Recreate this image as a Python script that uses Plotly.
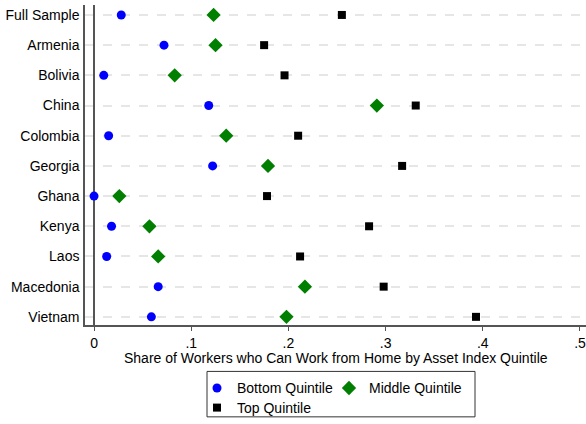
import plotly.graph_objects as go

countries = ["Full Sample", "Armenia", "Bolivia", "China", "Colombia", "Georgia",
             "Ghana", "Kenya", "Laos", "Macedonia", "Vietnam"]
bottom_q = [0.028, 0.072, 0.010, 0.118, 0.015, 0.122, 0.000, 0.018, 0.013, 0.066, 0.059]
middle_q = [0.123, 0.125, 0.083, 0.291, 0.136, 0.179, 0.026, 0.057, 0.066, 0.217, 0.198]
top_q = [0.255, 0.175, 0.196, 0.331, 0.210, 0.317, 0.178, 0.283, 0.212, 0.298, 0.393]
tick_vals = [0, 0.1, 0.2, 0.3, 0.4, 0.5]
tick_text = ["0", ".1", ".2", ".3", ".4", ".5"]
x_title = "Share of Workers who Can Work from Home by Asset Index Quintile"

FONT = "Liberation Sans, Arial, sans-serif"

fig = go.Figure()
fig.add_trace(go.Scatter(x=bottom_q, y=countries, mode="markers", name="Bottom Quintile",
                         marker=dict(symbol="circle", size=9, color="#0000ff"), legend="legend"))
fig.add_trace(go.Scatter(x=middle_q, y=countries, mode="markers", name="Middle Quintile",
                         marker=dict(symbol="diamond", size=11, color="#007f00"), legend="legend2"))
fig.add_trace(go.Scatter(x=top_q, y=countries, mode="markers", name="Top Quintile",
                         marker=dict(symbol="square", size=8, color="#000000"), legend="legend3"))

W, H = 586, 424
ml, mr, mt, mb = 85, 0, 5, 95
pw, ph = W - ml - mr, H - mt - mb

def px_x(p):
    return (p - ml) / pw

def px_y(p):
    return (H - mb - p) / ph

def leg(xp, yp):
    return dict(orientation="h", x=px_x(xp), y=px_y(yp), xanchor="left", yanchor="top",
                bgcolor="rgba(0,0,0,0)", borderwidth=0, font=dict(size=14), itemwidth=30)

fig.update_layout(
    width=W, height=H,
    margin=dict(l=ml, r=mr, t=mt, b=mb),
    paper_bgcolor="white", plot_bgcolor="white",
    font=dict(family=FONT, size=14, color="#000"),
    xaxis=dict(range=[-0.0093, 0.5062], tickvals=tick_vals, ticktext=tick_text,
               automargin=False, ticklabeloverflow="allow",
               showgrid=False, zeroline=True, zerolinecolor="#555", zerolinewidth=1.5,
               showline=True, linecolor="#555", linewidth=1.5,
               ticks="outside", ticklen=4, tickcolor="#555", tickwidth=1,
               ticklabelstandoff=0, tickfont=dict(size=14)),
    yaxis=dict(categoryorder="array", categoryarray=countries, automargin=False,
               range=[10.27, -0.33], showgrid=True, gridcolor="#e6e6e6", gridwidth=1.5,
               griddash="dash", showline=True, linecolor="#555", linewidth=1.5,
               ticks="", ticklabelstandoff=1, tickfont=dict(size=14)),
    showlegend=True,
    legend=leg(197, 377),
    legend2=leg(329, 377),
    legend3=leg(197, 397),
    annotations=[dict(text=x_title, xref="paper", yref="paper", x=0.5, y=px_y(362),
                      xanchor="center", yanchor="middle", showarrow=False,
                      font=dict(size=14))],
    shapes=[dict(type="rect", xref="paper", yref="paper",
                 x0=px_x(207), x1=px_x(475), y0=px_y(422), y1=px_y(376),
                 line=dict(color="#333", width=1), fillcolor="rgba(0,0,0,0)")],
)

fig.write_html("out.html", config={"displayModeBar": False},
               post_script="document.body.style.margin='0';")
